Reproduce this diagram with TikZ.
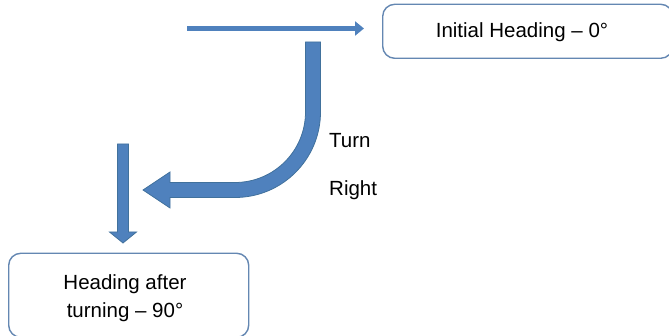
\documentclass[tikz,border=0pt]{standalone}
\usepackage{fontspec}
\setmainfont{Liberation Sans}
\usetikzlibrary{arrows.meta}
\definecolor{arrowblue}{RGB}{79,129,189}
\definecolor{arrowedge}{RGB}{65,113,156}
\definecolor{boxedge}{RGB}{100,135,178}
\tikzset{
  headbox/.style={draw=boxedge, line width=1.4pt, rounded corners=12pt, fill=white},
  headtext/.style={font=\fontsize{20.5}{28}\selectfont, text=black, inner sep=0pt, align=center},
  sidetext/.style={font=\fontsize{20.5}{28}\selectfont, text=black, inner sep=0pt, anchor=base west},
  thinarrow/.style={draw=arrowblue, line width=5pt, -{Triangle[width=14pt,length=9pt]}},
  fatarrow/.style={fill=arrowblue, draw=arrowedge, line width=0.8pt, line join=miter}
}
\begin{document}
\begin{tikzpicture}[x=1pt,y=1pt]
\useasboundingbox (0,0) rectangle (669,336);
\clip (0,0) rectangle (669,336);

% heading boxes
\node[headbox, minimum width=290pt, minimum height=54pt, anchor=south west] (initbox) at (382,277) {};
\node[headtext] (inittext) at (522,304) {Initial Heading -- 0°};
\node[headbox, minimum width=240pt, minimum height=84pt, anchor=south west] (finalbox) at (8,-2) {};
\node[headtext] (finaltext) at (125,38) {Heading after\\turning -- 90°};

% initial heading arrow
\coordinate (h0start) at (187,307.5);
\coordinate (h0end) at (364,307.5);
\draw[thinarrow] (h0start) -- (h0end);

% curved turn arrow
\filldraw[fatarrow] (305.5,294) -- (320.5,294) -- (320.5,224)
  arc[start angle=0, end angle=-90, radius=85.5]
  -- (170,138.5) -- (170,128) -- (143,146) -- (170,164) -- (170,153.5) -- (235,153.5)
  arc[start angle=-90, end angle=0, radius=70.5] -- cycle;

% heading after the turn
\filldraw[fatarrow] (117.5,192) -- (128.5,192) -- (128.5,104) -- (136.5,104)
  -- (123,93) -- (109.5,104) -- (117.5,104) -- cycle;

% turn labels
\node[sidetext] (turn) at (329,188) {Turn};
\node[sidetext] (right) at (329,140) {Right};
\end{tikzpicture}
\end{document}
